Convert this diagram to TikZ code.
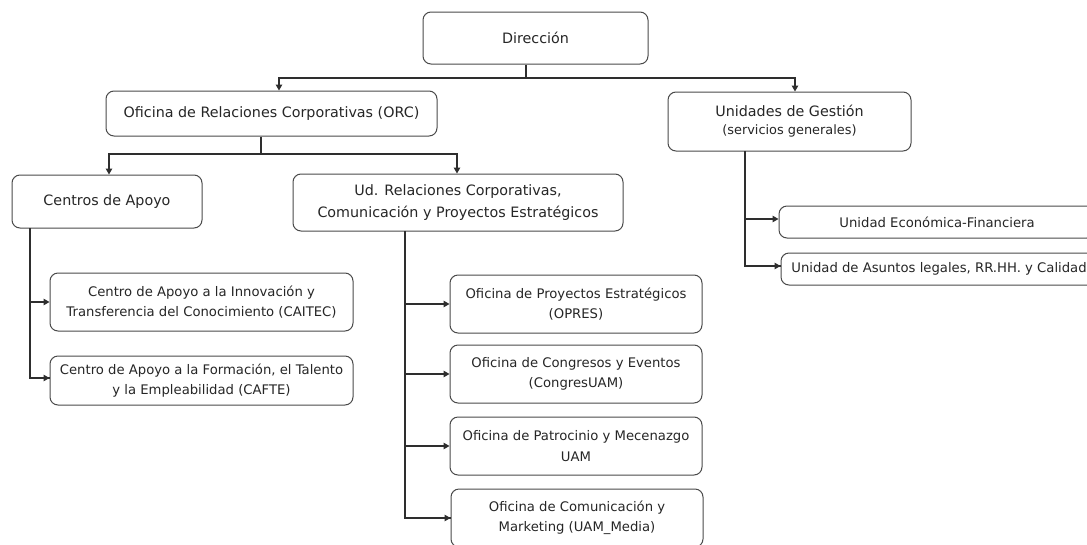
\documentclass[tikz,border=0pt]{standalone}
\usepackage{fontspec}
\setmainfont{DejaVu Sans}
\usetikzlibrary{arrows.meta}
\definecolor{boxgray}{HTML}{4A4A4A}
\definecolor{linegray}{HTML}{2E2E2E}
\definecolor{txtgray}{HTML}{262626}
\begin{document}
\begin{tikzpicture}[x=1pt,y=-1pt,
  box/.style={draw=boxgray, line width=1pt, rounded corners=8pt, align=center, text=txtgray, inner sep=0pt},
  conn/.style={draw=linegray, line width=1.1pt},
  arr/.style={conn, -{Triangle[length=6pt,width=6.5pt]}},
  big/.style={font=\fontsize{14.3}{22}\selectfont},
  small/.style={font=\fontsize{13.2}{20.5}\selectfont}]
\clip (0,0) rectangle (1087,544);
\fill[white] (0,0) rectangle (1087,544);

% top level
\node[box,big,minimum width=225pt,minimum height=52pt] (dir) at (535.5,38) {Dirección};
\node[box,big,minimum width=331pt,minimum height=45pt] (orc) at (271.5,113.5) {Oficina de Relaciones Corporativas (ORC)};
\node[box,font=\fontsize{14.3}{18}\selectfont,minimum width=243pt,minimum height=59pt] (ug) at (789.5,121.5) {Unidades de Gestión\\{\fontsize{12.9}{18}\selectfont (servicios generales)}};

% second level
\node[box,big,minimum width=190pt,minimum height=53pt] (cen) at (107,201.5) {Centros de Apoyo};
\node[box,big,minimum width=330pt,minimum height=57pt] (ud) at (458,202.5) {Ud. Relaciones Corporativas,\\Comunicación y Proyectos Estratégicos};

% centros children
\node[box,small,minimum width=303pt,minimum height=58pt] (cai) at (201.5,302) {Centro de Apoyo a la Innovación y\\Transferencia del Conocimiento (CAITEC)};
\node[box,small,minimum width=303pt,minimum height=49pt] (caf) at (201.5,380.5) {Centro de Apoyo a la Formación, el Talento\\y la Empleabilidad (CAFTE)};

% ud children
\node[box,small,minimum width=252pt,minimum height=58pt] (opr) at (576,304) {Oficina de Proyectos Estratégicos\\(OPRES)};
\node[box,small,minimum width=252pt,minimum height=58pt] (con) at (576,374) {Oficina de Congresos y Eventos\\(CongresUAM)};
\node[box,small,minimum width=252pt,minimum height=58pt] (pat) at (576,446) {Oficina de Patrocinio y Mecenazgo\\UAM};
\node[box,small,minimum width=252pt,minimum height=58pt] (com) at (577,518) {Oficina de Comunicación y\\Marketing (UAM\_Media)};

% unidades children
\node[box,small,minimum width=316pt,minimum height=32pt] (eco) at (937,222) {Unidad Económica-Financiera};
\node[box,small,minimum width=316pt,minimum height=32pt] (leg) at (939,269) {Unidad de Asuntos legales, RR.HH. y Calidad};

% connectors: Direccion
\coordinate (j1) at (526,78);
\draw[conn] ([xshift=-9.5pt]dir.south) -- (j1);
\draw[arr] (j1) -| ([xshift=7.5pt]orc.north);
\draw[arr] (j1) -| ([xshift=5.5pt]ug.north);

% ORC
\coordinate (j2) at (261,154);
\draw[conn] ([xshift=-10.5pt]orc.south) -- (j2);
\draw[arr] (j2) -| ([xshift=2pt]cen.north);
\draw[arr] (j2) -| ([xshift=-1pt]ud.north);

% Centros bus
\coordinate (cb) at (30,228);
\draw[conn] (cb) |- ([yshift=2.5pt]caf.west);
\draw[arr] (cb |- cai.west) -- (cai.west);
\draw[arr] ([yshift=2.5pt]caf.west -| cb) -- ([yshift=2.5pt]caf.west);

% Ud bus
\coordinate (ub) at (405,231);
\draw[conn] (ub) |- (com.west);
\draw[arr] (ub |- opr.west) -- (opr.west);
\draw[arr] (ub |- con.west) -- (con.west);
\draw[arr] (ub |- pat.west) -- (pat.west);
\draw[arr] (ub |- com.west) -- (com.west);

% Unidades bus
\coordinate (gb) at (745,151);
\draw[conn] (gb) |- ([yshift=3pt]leg.west);
\draw[arr] ([yshift=3pt]eco.west -| gb) -- ([yshift=3pt]eco.west);
\draw[arr] ([yshift=3pt]leg.west -| gb) -- ([yshift=3pt]leg.west);
\end{tikzpicture}
\end{document}
